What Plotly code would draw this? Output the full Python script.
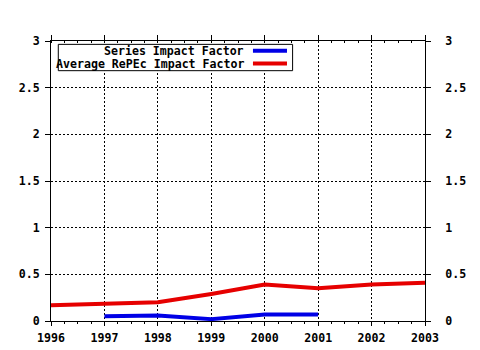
import plotly.graph_objects as go

# Impact factor series by year
years_avg = [1996, 1997, 1998, 1999, 2000, 2001, 2002, 2003]
avg_repec_if = [0.17, 0.18, 0.20, 0.29, 0.39, 0.35, 0.39, 0.41]

years_series = [1997, 1998, 1999, 2000, 2001]
series_if = [0.05, 0.06, 0.02, 0.07, 0.07]

x_ticks = [1996, 1997, 1998, 1999, 2000, 2001, 2002, 2003]
y_ticks = [0, 0.5, 1, 1.5, 2, 2.5, 3]
y_tick_text = ["0", "0.5", "1", "1.5", "2", "2.5", "3"]

series_name = "Series Impact Factor"
avg_name = "Average RePEc Impact Factor"

BLUE = "#0000e6"
RED = "#e60000"
FONT = dict(family="DejaVu Sans Mono", size=11.6, color="black", weight="bold")

fig = go.Figure()
fig.add_trace(go.Scatter(x=years_avg, y=avg_repec_if, mode="lines", name=avg_name,
                         line=dict(color=RED, width=4), showlegend=False))
# the second series sits on the mirrored top/right axes (same ranges)
fig.add_trace(go.Scatter(x=years_series, y=series_if, mode="lines", name=series_name,
                         line=dict(color=BLUE, width=4), showlegend=False,
                         xaxis="x2", yaxis="y2"))

grid = dict(showgrid=True, gridcolor="black", gridwidth=1, griddash="2px,2px")

fig.update_layout(
    width=480, height=350,
    margin=dict(l=51, r=55, t=41, b=29, autoexpand=False),
    paper_bgcolor="white", plot_bgcolor="white",
    font=FONT,
    xaxis=dict(range=[1996, 2003], tickvals=x_ticks, ticktext=[str(v) for v in x_ticks],
               ticks="outside", ticklen=4, tickcolor="black", automargin=False,
               showline=True, linecolor="black", linewidth=1, zeroline=False,
               ticklabelstandoff=2,
               minor=dict(dtick=0.25, tick0=1996, ticks="outside", ticklen=2,
                          tickcolor="black", showgrid=False),
               tickfont=FONT, **grid),
    xaxis2=dict(range=[1996, 2003], overlaying="x", side="top", tickvals=x_ticks,
                showticklabels=False, ticks="outside", ticklen=5, tickcolor="black",
                showline=True, linecolor="black", linewidth=1, showgrid=False,
                zeroline=False, automargin=False,
                minor=dict(dtick=0.25, tick0=1996, ticks="inside", ticklen=2,
                           tickcolor="black", showgrid=False)),
    yaxis=dict(range=[0, 3], tickvals=y_ticks, ticktext=y_tick_text,
               ticks="outside", ticklen=5, tickcolor="black", automargin=False,
               showline=True, linecolor="black", linewidth=1, zeroline=False,
               ticklabelstandoff=3, tickfont=FONT, **grid),
    yaxis2=dict(range=[0, 3], overlaying="y", side="right", tickvals=y_ticks,
                ticktext=y_tick_text, ticks="outside", ticklen=5, tickcolor="black",
                showline=True, linecolor="black", linewidth=1, showgrid=False,
                zeroline=False, ticklabelstandoff=12, tickfont=FONT,
                automargin=False),
)

# Legend box: labels on the left, line samples on the right
box_x0, box_x1, box_y0, box_y1 = 0.0195, 0.646, 0.894, 0.988
fig.add_shape(type="rect", xref="paper", yref="paper",
              x0=box_x0, x1=box_x1, y0=box_y0, y1=box_y1,
              line=dict(color="black", width=1), fillcolor="white", layer="above")

entries = [(series_name, BLUE, 0.9653), (avg_name, RED, 0.9195)]
for name, color, yy in entries:
    fig.add_annotation(xref="paper", yref="paper", x=0.5214, y=yy, text=name,
                       showarrow=False, xanchor="right", yanchor="middle",
                       font=FONT)
    fig.add_shape(type="line", xref="paper", yref="paper", x0=0.540, x1=0.631,
                  y0=yy, y1=yy, line=dict(color=color, width=4), layer="above")

fig.write_html("out.html")
